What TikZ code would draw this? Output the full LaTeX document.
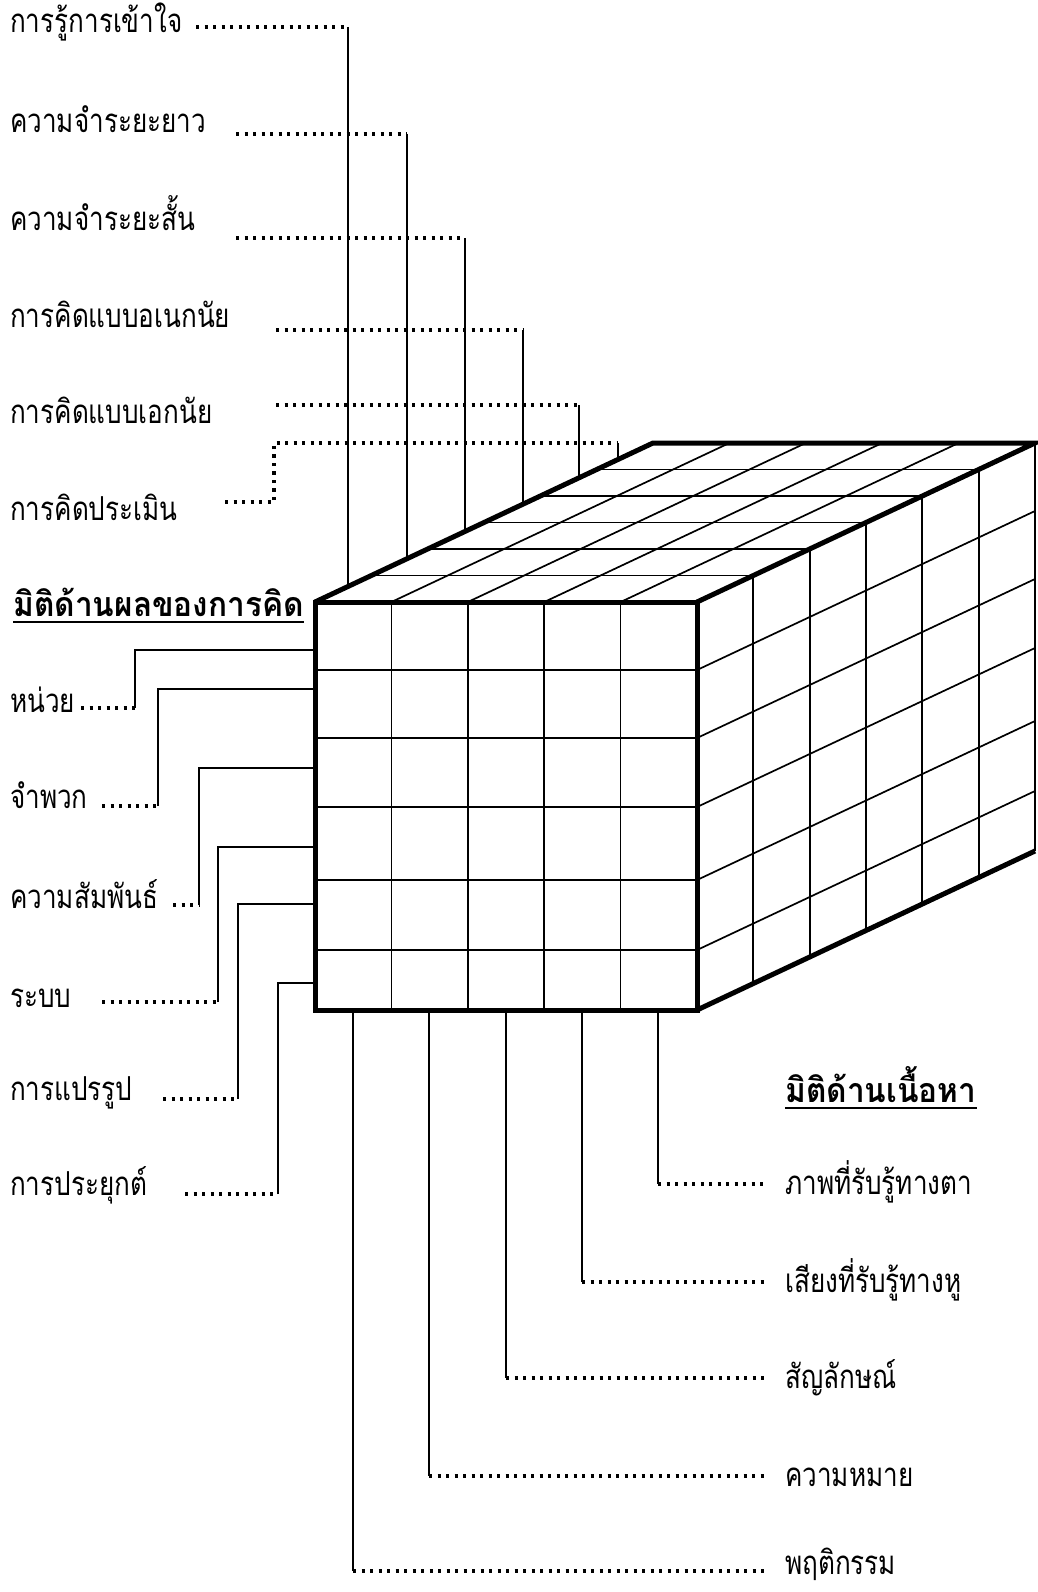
\documentclass[tikz,border=0pt]{standalone}
\usepackage{fontspec}
\usetikzlibrary{calc}
\newfontfamily\thaifont[Script=Thai,FakeStretch=0.79]{Loma}
\newfontfamily\thaiboldfont[Script=Thai,FakeStretch=0.93]{Loma Bold}
\begin{document}
\begin{tikzpicture}[x=1pt,y=-1pt,
  gridln/.style={line width=1.7pt},
  edgeln/.style={line width=5pt,line join=miter},
  conn/.style={line width=1.6pt},
  dotln/.style={line width=3.4pt,dash pattern=on 3.2pt off 5.3pt},
  lbl/.style={inner sep=0pt,anchor=base west,font=\thaifont\fontsize{33}{39}\selectfont},
  hdg/.style={inner sep=0pt,anchor=base west,font=\thaiboldfont\fontsize{34}{40}\selectfont}]
\useasboundingbox (0,0) rectangle (1038,1592);
% ---------- cube ----------
\coordinate (FTL) at (315,602);
\coordinate (FTR) at (697,602);
\coordinate (FBL) at (315,1010);
\coordinate (FBR) at (697,1010);
\coordinate (BTL) at (653,443);
\coordinate (BTR) at (1035,443);
\coordinate (BBR) at (1035,851);
\begin{scope}
\clip (0,0) rectangle (1038,1592);
% top face grid
\foreach \k in {1,...,5}{
  \draw[gridln] ($(315,602)+\k*(56.33,-26.5)$) -- ($(697,602)+\k*(56.33,-26.5)$);}
\foreach \i in {1,...,4}{
  \draw[gridln] (315+76.4*\i,602) -- (653+76.4*\i,443);}
% right face grid
\foreach \k in {1,...,5}{
  \draw[gridln] ($(697,602)+\k*(56.33,-26.5)$) -- ($(697,1010)+\k*(56.33,-26.5)$);}
\foreach \yy in {670,738,807,880,950}{
  \draw[gridln] (697,\yy) -- (1035,\yy-159);}
\draw[gridln] (BTR) -- (BBR);
% front face grid
\foreach \i in {1,...,4}{
  \draw[gridln] (315+76.4*\i,602) -- (315+76.4*\i,1010);}
\foreach \yy in {670,738,807,880,950}{
  \draw[gridln] (315,\yy) -- (697,\yy);}
% thick edges
\draw[edgeln] (FTL) -- (BTL) -- (BTR) -- (FTR);
\draw[edgeln] (FBR) -- (BBR);
\draw[edgeln] (FTL) rectangle (FBR);
\end{scope}
% ---------- top labels (thinking operations) ----------
\node[lbl] (L1) at (10,33) {การรู้การเข้าใจ};
\node[lbl] (L2) at (10,132) {ความจำระยะยาว};
\node[lbl] (L3) at (10,230) {ความจำระยะสั้น};
\node[lbl] (L4) at (10,327) {การคิดแบบอเนกนัย};
\node[lbl] (L5) at (10,423) {การคิดแบบเอกนัย};
\node[lbl] (L6) at (10,520) {การคิดประเมิน};
\coordinate (a1) at (196,27);  \coordinate (b1) at (348,27);  \coordinate (c1) at (348,586.5);
\coordinate (a2) at (236,134); \coordinate (b2) at (407,134); \coordinate (c2) at (407,558.7);
\coordinate (a3) at (236,238); \coordinate (b3) at (465,238); \coordinate (c3) at (465,531.4);
\coordinate (a4) at (276,330); \coordinate (b4) at (523,330); \coordinate (c4) at (523,504.2);
\coordinate (a5) at (276,405); \coordinate (b5) at (579,405); \coordinate (c5) at (579,477.8);
\coordinate (a6) at (225,502); \coordinate (d6) at (274,502); \coordinate (e6) at (274,443);
\coordinate (b6) at (618,443); \coordinate (c6) at (618,459.5);
\foreach \n in {1,...,5}{
  \draw[dotln] (a\n) -- (b\n);
  \draw[conn] (b\n) -- (c\n);}
\draw[dotln] (a6) -- (d6) -- (e6) -- (b6);
\draw[conn] (b6) -- (c6);
% ---------- left labels (products) ----------
\node[hdg] (H1) at (13,616) {มิติด้านผลของการคิด};
\draw[line width=2pt] ([yshift=-6pt]H1.base west) -- ([yshift=-6pt]H1.base east);
\node[lbl] (P1) at (10,712) {หน่วย};
\node[lbl] (P2) at (10,808) {จำพวก};
\node[lbl] (P3) at (10,908) {ความสัมพันธ์};
\node[lbl] (P4) at (10,1007) {ระบบ};
\node[lbl] (P5) at (10,1100) {การแปรรูป};
\node[lbl] (P6) at (10,1195) {การประยุกต์};
\coordinate (pa1) at (81,708);   \coordinate (pb1) at (135,708);  \coordinate (pc1) at (135,650);  \coordinate (pd1) at (315,650);
\coordinate (pa2) at (102,806);  \coordinate (pb2) at (158,806);  \coordinate (pc2) at (158,689);  \coordinate (pd2) at (315,689);
\coordinate (pa3) at (173,905);  \coordinate (pb3) at (199,905);  \coordinate (pc3) at (199,768);  \coordinate (pd3) at (315,768);
\coordinate (pa4) at (102,1002); \coordinate (pb4) at (218,1002); \coordinate (pc4) at (218,847);  \coordinate (pd4) at (315,847);
\coordinate (pa5) at (163,1099); \coordinate (pb5) at (238,1099); \coordinate (pc5) at (238,904);  \coordinate (pd5) at (315,904);
\coordinate (pa6) at (185,1194); \coordinate (pb6) at (278,1194); \coordinate (pc6) at (278,983);  \coordinate (pd6) at (315,983);
\foreach \n in {1,...,6}{
  \draw[dotln] (pa\n) -- (pb\n);
  \draw[conn] (pb\n) -- (pc\n) -- (pd\n);}
% ---------- bottom labels (contents) ----------
\node[hdg] (H2) at (785,1102) {มิติด้านเนื้อหา};
\draw[line width=2pt] ([yshift=-6pt]H2.base west) -- ([yshift=-6pt]H2.base east);
\node[lbl] (C1) at (785,1194) {ภาพที่รับรู้ทางตา};
\node[lbl] (C2) at (785,1292) {เสียงที่รับรู้ทางหู};
\node[lbl] (C3) at (785,1388) {สัญลักษณ์};
\node[lbl] (C4) at (785,1486) {ความหมาย};
\node[lbl] (C5) at (785,1574) {พฤติกรรม};
\coordinate (ca1) at (658,1010); \coordinate (cb1) at (658,1184); \coordinate (cc1) at (767,1184);
\coordinate (ca2) at (582,1010); \coordinate (cb2) at (582,1282); \coordinate (cc2) at (767,1282);
\coordinate (ca3) at (506,1010); \coordinate (cb3) at (506,1378); \coordinate (cc3) at (767,1378);
\coordinate (ca4) at (429,1010); \coordinate (cb4) at (429,1476); \coordinate (cc4) at (767,1476);
\coordinate (ca5) at (353,1010); \coordinate (cb5) at (353,1571); \coordinate (cc5) at (767,1571);
\foreach \n in {1,...,5}{
  \draw[conn] (ca\n) -- (cb\n);
  \draw[dotln] (cb\n) -- (cc\n);}
\end{tikzpicture}
\end{document}
